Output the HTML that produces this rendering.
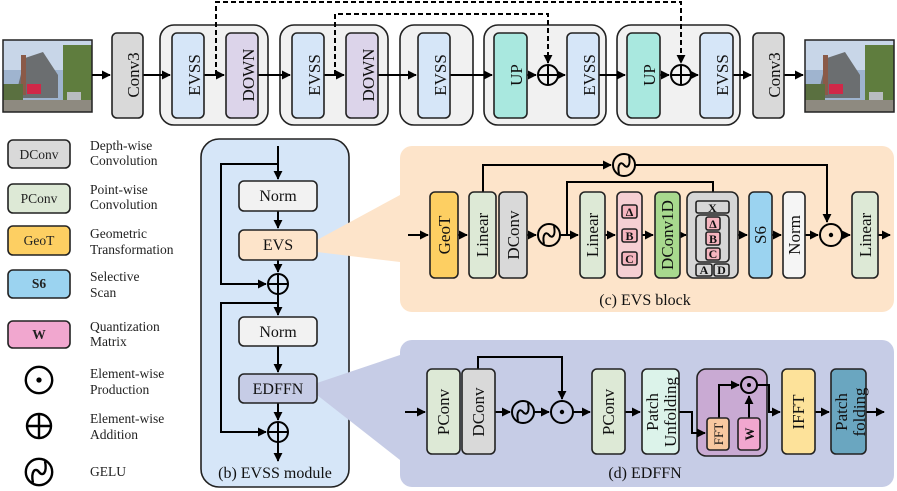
<!DOCTYPE html>
<html><head><meta charset="utf-8"><style>
html,body{margin:0;padding:0;background:#fff;}
svg{display:block;}
text{font-family:"Liberation Serif","Times New Roman",serif;}
</style></head><body>
<svg width="897" height="491" viewBox="0 0 897 491" xmlns="http://www.w3.org/2000/svg" font-family="Liberation Serif, serif">
<defs>
<marker id="a" viewBox="0 0 10 10" refX="9" refY="5" markerWidth="4.5" markerHeight="4.5" orient="auto"><path d="M0,0L10,5L0,10z" fill="#000"/></marker>
<g id="gelu"><circle r="11" fill="none" stroke="#000" stroke-width="2"/><path d="M-5,9 C-7,-1 -3,-4 0,0 C3,4 7,1 5,-9" fill="none" stroke="#000" stroke-width="2"/></g>
<g id="plus"><circle r="10" fill="none" stroke="#000" stroke-width="2"/><path d="M-10,0H10M0,-10V10" stroke="#000" stroke-width="2"/></g>
<g id="dot"><circle r="11" fill="none" stroke="#000" stroke-width="2"/><circle r="2.2" fill="#000"/></g>
<g id="img">
<rect x="0" y="0" width="89" height="72" fill="#9fb4cf"/>
<rect x="0" y="0" width="89" height="30" fill="#c8d6e8"/>
<rect x="60" y="5" width="29" height="60" fill="#5f7d3e"/>
<polygon points="14,50 22,18 40,12 55,35 55,58 14,58" fill="#6b6e70"/>
<rect x="18" y="15" width="5" height="40" fill="#8a5a48"/>
<rect x="24" y="44" width="14" height="10" fill="#d02848"/>
<rect x="0" y="44" width="20" height="20" fill="#5a7040"/>
<rect x="0" y="60" width="89" height="12" fill="#8e8a80"/>
<rect x="64" y="52" width="14" height="8" fill="#b8bcc0"/>
<rect x="0" y="0" width="89" height="72" fill="none" stroke="#222" stroke-width="1.5"/>
</g>
</defs>
<style>
.b{stroke:#222;stroke-width:1.6;}
.t{font-size:15px;fill:#111;}
.s{font-size:13.5px;fill:#222;}
.l{stroke:#000;stroke-width:2;fill:none;}
</style>

<!-- TOP ROW -->
<use href="#img" x="3" y="40"/>
<use href="#img" x="805" y="40"/>
<rect x="160" y="25" width="108" height="100" rx="14" fill="#f1f1f1" class="b"/>
<rect x="280" y="25" width="108" height="100" rx="14" fill="#f1f1f1" class="b"/>
<rect x="400" y="25" width="73" height="100" rx="14" fill="#f1f1f1" class="b"/>
<rect x="484" y="25" width="122" height="100" rx="14" fill="#f1f1f1" class="b"/>
<rect x="617" y="25" width="123" height="100" rx="14" fill="#f1f1f1" class="b"/>
<g class="l" marker-end="url(#a)">
<path d="M92,75H110"/><path d="M143,75H170"/><path d="M204,75H224"/><path d="M258,75H290"/><path d="M324,75H344"/><path d="M378,75H416"/><path d="M450,75H492"/><path d="M527,75H536"/><path d="M558,75H565"/><path d="M599,75H625"/><path d="M660,75H669"/><path d="M691,75H698"/><path d="M733,75H751"/><path d="M784,75H803"/>
</g>
<g>
<rect x="112" y="33" width="31" height="85" rx="5" fill="#d9d9d9" class="b"/>
<rect x="172" y="33" width="32" height="85" rx="5" fill="#d6e6f8" class="b"/>
<rect x="226" y="33" width="32" height="85" rx="5" fill="#dcd4ea" class="b"/>
<rect x="292" y="33" width="32" height="85" rx="5" fill="#d6e6f8" class="b"/>
<rect x="346" y="33" width="32" height="85" rx="5" fill="#dcd4ea" class="b"/>
<rect x="418" y="33" width="32" height="85" rx="5" fill="#d6e6f8" class="b"/>
<rect x="494" y="33" width="33" height="85" rx="5" fill="#a9e8df" class="b"/>
<rect x="567" y="33" width="32" height="85" rx="5" fill="#d6e6f8" class="b"/>
<rect x="627" y="33" width="33" height="85" rx="5" fill="#a9e8df" class="b"/>
<rect x="700" y="33" width="33" height="85" rx="5" fill="#d6e6f8" class="b"/>
<rect x="753" y="33" width="31" height="85" rx="5" fill="#d9d9d9" class="b"/>
</g>
<g class="t" text-anchor="middle" style="font-size:17px">
<text transform="translate(133,75) rotate(-90)" dy="6">Conv3</text>
<text transform="translate(194,75) rotate(-90)" dy="6">EVSS</text>
<text transform="translate(248,75) rotate(-90)" dy="6">DOWN</text>
<text transform="translate(314,75) rotate(-90)" dy="6">EVSS</text>
<text transform="translate(368,75) rotate(-90)" dy="6">DOWN</text>
<text transform="translate(440,75) rotate(-90)" dy="6">EVSS</text>
<text transform="translate(516,75) rotate(-90)" dy="6">UP</text>
<text transform="translate(589,75) rotate(-90)" dy="6">EVSS</text>
<text transform="translate(649,75) rotate(-90)" dy="6">UP</text>
<text transform="translate(722,75) rotate(-90)" dy="6">EVSS</text>
<text transform="translate(774,75) rotate(-90)" dy="6">Conv3</text>
</g>
<use href="#plus" x="548" y="75"/>
<use href="#plus" x="681" y="75"/>
<path d="M216,75V2H681V63" stroke="#000" stroke-width="2" fill="none" stroke-dasharray="5,3" marker-end="url(#a)"/>
<path d="M335,75V14H548V63" stroke="#000" stroke-width="2" fill="none" stroke-dasharray="5,3" marker-end="url(#a)"/>

<!-- LEGEND -->
<rect x="8" y="140" width="62" height="28" rx="5" fill="#d9d9d9" class="b"/>
<rect x="8" y="184" width="62" height="29" rx="5" fill="#dde9d6" class="b"/>
<rect x="8" y="226" width="62" height="29" rx="5" fill="#fdcf62" class="b"/>
<rect x="8" y="270" width="62" height="28" rx="5" fill="#9bd3f0" class="b"/>
<rect x="8" y="321" width="62" height="27" rx="5" fill="#f1a7cf" class="b"/>
<g class="s" text-anchor="middle">
<text x="39" y="159">DConv</text>
<text x="39" y="203">PConv</text>
<text x="39" y="245">GeoT</text>
<text x="39" y="288" font-weight="bold">S6</text>
<text x="39" y="339" font-weight="bold">W</text>
</g>
<g transform="translate(39,380) scale(1.2)"><use href="#dot"/></g>
<g transform="translate(39,426) scale(1.2)"><use href="#plus"/></g>
<g transform="translate(39,472) scale(1.2)"><use href="#gelu"/></g>
<g class="s">
<text x="90" y="150">Depth-wise</text><text x="90" y="165">Convolution</text>
<text x="90" y="194">Point-wise</text><text x="90" y="209">Convolution</text>
<text x="90" y="238">Geometric</text><text x="90" y="254">Transformation</text>
<text x="90" y="281">Selective</text><text x="90" y="297">Scan</text>
<text x="90" y="331">Quantization</text><text x="90" y="346">Matrix</text>
<text x="90" y="378">Element-wise</text><text x="90" y="394">Production</text>
<text x="90" y="423">Element-wise</text><text x="90" y="439">Addition</text>
<text x="90" y="476">GELU</text>
</g>

<!-- PANELS -->
<rect x="400" y="146" width="494" height="166" rx="12" fill="#fde4ca"/>
<rect x="400" y="340" width="494" height="147" rx="12" fill="#c6cce6"/>
<rect x="201" y="139" width="148" height="348" rx="18" fill="#d6e6f8" class="b"/>
<polygon points="317,240 400,195 400,262 317,252" fill="#fde4ca"/>
<polygon points="317,383 400,355 400,460 317,395" fill="#c6cce6"/>

<!-- EVSS module -->
<g class="l" marker-end="url(#a)">
<path d="M278,146V179"/><path d="M278,211V228"/><path d="M278,260V272"/><path d="M278,294V315"/><path d="M278,346V372"/><path d="M278,403V420"/><path d="M278,442V461"/>
<path d="M278,164H221V284H266"/>
<path d="M278,303H221V432H266"/>
</g>
<rect x="239" y="181" width="78" height="30" rx="5" fill="#f2f2f2" class="b"/>
<rect x="239" y="230" width="78" height="30" rx="5" fill="#fde4ca" class="b"/>
<rect x="239" y="317" width="78" height="29" rx="5" fill="#f2f2f2" class="b"/>
<rect x="239" y="374" width="78" height="29" rx="5" fill="#c6cce6" class="b"/>
<use href="#plus" x="278" y="284"/>
<use href="#plus" x="278" y="432"/>
<g class="t" text-anchor="middle">
<text x="278" y="201" style="font-size:16px">Norm</text>
<text x="278" y="250" style="font-size:16px">EVS</text>
<text x="278" y="337" style="font-size:16px">Norm</text>
<text x="278" y="394" style="font-size:16px">EDFFN</text>
<text x="275" y="478" style="font-size:16px">(b) EVSS module</text>
<text x="645" y="305" style="font-size:16px">(c) EVS block</text>
<text x="645" y="478" style="font-size:16px">(d) EDFFN</text>
</g>

<!-- EVS block -->
<g class="l" marker-end="url(#a)">
<path d="M408,235H428"/><path d="M458,235H467"/><path d="M527,235H536"/><path d="M560,235H578"/><path d="M605,235H615"/><path d="M642,235H653"/><path d="M680,235H686"/><path d="M738,235H747"/><path d="M772,235H781"/><path d="M805,235H818"/><path d="M842,235H850"/><path d="M878,235H890"/>
<path d="M635,165H827V222"/>
<path d="M483,192V165H611"/>
<path d="M567,235V182H713V200"/>
</g>
<use href="#gelu" x="624" y="165"/>
<use href="#gelu" x="549" y="235"/>
<use href="#dot" x="831" y="235"/>
<rect x="430" y="192" width="28" height="86" rx="5" fill="#fdcf62" class="b"/>
<rect x="469" y="192" width="27" height="86" rx="5" fill="#dde9d6" class="b"/>
<rect x="499" y="192" width="28" height="86" rx="5" fill="#d9d9d9" class="b"/>
<rect x="580" y="192" width="25" height="86" rx="5" fill="#dde9d6" class="b"/>
<rect x="617" y="192" width="25" height="86" rx="5" fill="#f5cfd3" class="b"/>
<rect x="655" y="192" width="25" height="86" rx="5" fill="#a8d98e" class="b"/>
<rect x="687" y="192" width="51" height="86" rx="7" fill="#d6d6d6" class="b"/>
<rect x="749" y="192" width="23" height="86" rx="5" fill="#9bd3f0" class="b"/>
<rect x="783" y="192" width="22" height="86" rx="5" fill="#f5f5f5" class="b"/>
<rect x="852" y="192" width="26" height="86" rx="5" fill="#dde9d6" class="b"/>
<rect x="622" y="205" width="15" height="13" rx="2" fill="#f5b5bf" class="b"/>
<rect x="622" y="229" width="15" height="13" rx="2" fill="#f5b5bf" class="b"/>
<rect x="622" y="252" width="15" height="13" rx="2" fill="#f5b5bf" class="b"/>
<rect x="696" y="201" width="33" height="12" rx="2" fill="#d6d6d6" class="b"/>
<rect x="696" y="215" width="33" height="47" rx="4" fill="#d6d6d6" class="b"/>
<rect x="706" y="217" width="14" height="13" rx="2" fill="#f5b5bf" class="b"/>
<rect x="706" y="232" width="14" height="13" rx="2" fill="#f5b5bf" class="b"/>
<rect x="706" y="248" width="14" height="12" rx="2" fill="#f5b5bf" class="b"/>
<rect x="696" y="264" width="16" height="12" rx="2" fill="#d6d6d6" class="b"/>
<rect x="714" y="264" width="15" height="12" rx="2" fill="#d6d6d6" class="b"/>
<g class="t" text-anchor="middle" style="font-size:17px">
<text transform="translate(444,235) rotate(-90)" dy="6">GeoT</text>
<text transform="translate(482,235) rotate(-90)" dy="6">Linear</text>
<text transform="translate(513,235) rotate(-90)" dy="6">DConv</text>
<text transform="translate(592,235) rotate(-90)" dy="6">Linear</text>
<text transform="translate(667,235) rotate(-90)" dy="6">DConv1D</text>
<text transform="translate(760,235) rotate(-90)" dy="6">S6</text>
<text transform="translate(794,235) rotate(-90)" dy="6">Norm</text>
<text transform="translate(865,235) rotate(-90)" dy="6">Linear</text>
</g>
<g font-size="12" fill="#111" text-anchor="middle" font-weight="bold">
<text x="629.5" y="216">Δ</text><text x="629.5" y="240">B</text><text x="629.5" y="263">C</text>
<text x="712.5" y="212">X</text>
<text x="713" y="228">Δ</text><text x="713" y="243">B</text><text x="713" y="258">C</text>
<text x="704" y="274">A</text><text x="721.5" y="274">D</text>
</g>

<!-- EDFFN -->
<rect x="697" y="369" width="70" height="87" rx="9" fill="#c9aad3" class="b"/>
<g class="l" marker-end="url(#a)">
<path d="M405,412H425"/><path d="M495,412H510"/><path d="M534,412H549"/><path d="M573,412H590"/><path d="M625,412H640"/><path d="M815,412H829"/><path d="M866,412H884"/>
<path d="M478,369V357H562V399"/>
<path d="M679,412H692V433H705"/>
<path d="M719,418V385H739"/>
<path d="M749,418V396"/>
<path d="M757,385H769V412H780"/>
</g>
<circle cx="749" cy="385" r="8" fill="none" stroke="#000" stroke-width="2"/><circle cx="749" cy="385" r="2" fill="#000"/>
<use href="#gelu" x="523" y="412"/>
<use href="#dot" x="562" y="412"/>
<rect x="427" y="369" width="33" height="85" rx="5" fill="#dde9d6" class="b"/>
<rect x="462" y="369" width="33" height="85" rx="5" fill="#d9d9d9" class="b"/>
<rect x="592" y="369" width="33" height="85" rx="5" fill="#dde9d6" class="b"/>
<rect x="642" y="369" width="37" height="85" rx="5" fill="#dcf3ea" class="b"/>
<rect x="707" y="418" width="22" height="32" rx="3" fill="#f8c8a0" class="b"/>
<rect x="738" y="418" width="22" height="32" rx="3" fill="#f1a7cf" class="b"/>
<rect x="782" y="369" width="33" height="85" rx="5" fill="#fde29a" class="b"/>
<rect x="831" y="369" width="35" height="85" rx="5" fill="#6aa6c0" class="b"/>
<g class="t" text-anchor="middle" style="font-size:17px">
<text transform="translate(443,412) rotate(-90)" dy="6">PConv</text>
<text transform="translate(478,412) rotate(-90)" dy="6">DConv</text>
<text transform="translate(608,412) rotate(-90)" dy="6">PConv</text>
<text transform="translate(652,412) rotate(-90)" dy="6">Patch</text>
<text transform="translate(670,412) rotate(-90)" dy="6">Unfolding</text>
<text transform="translate(798,412) rotate(-90)" dy="6">IFFT</text>
<text transform="translate(841,412) rotate(-90)" dy="6">Patch</text>
<text transform="translate(859,412) rotate(-90)" dy="6">folding</text>
<text transform="translate(718,434) rotate(-90)" dy="5" style="font-size:13px">FFT</text>
<text transform="translate(749,434) rotate(-90)" dy="5" style="font-size:13px" font-weight="bold">W</text>
</g>
</svg>
</body></html>
